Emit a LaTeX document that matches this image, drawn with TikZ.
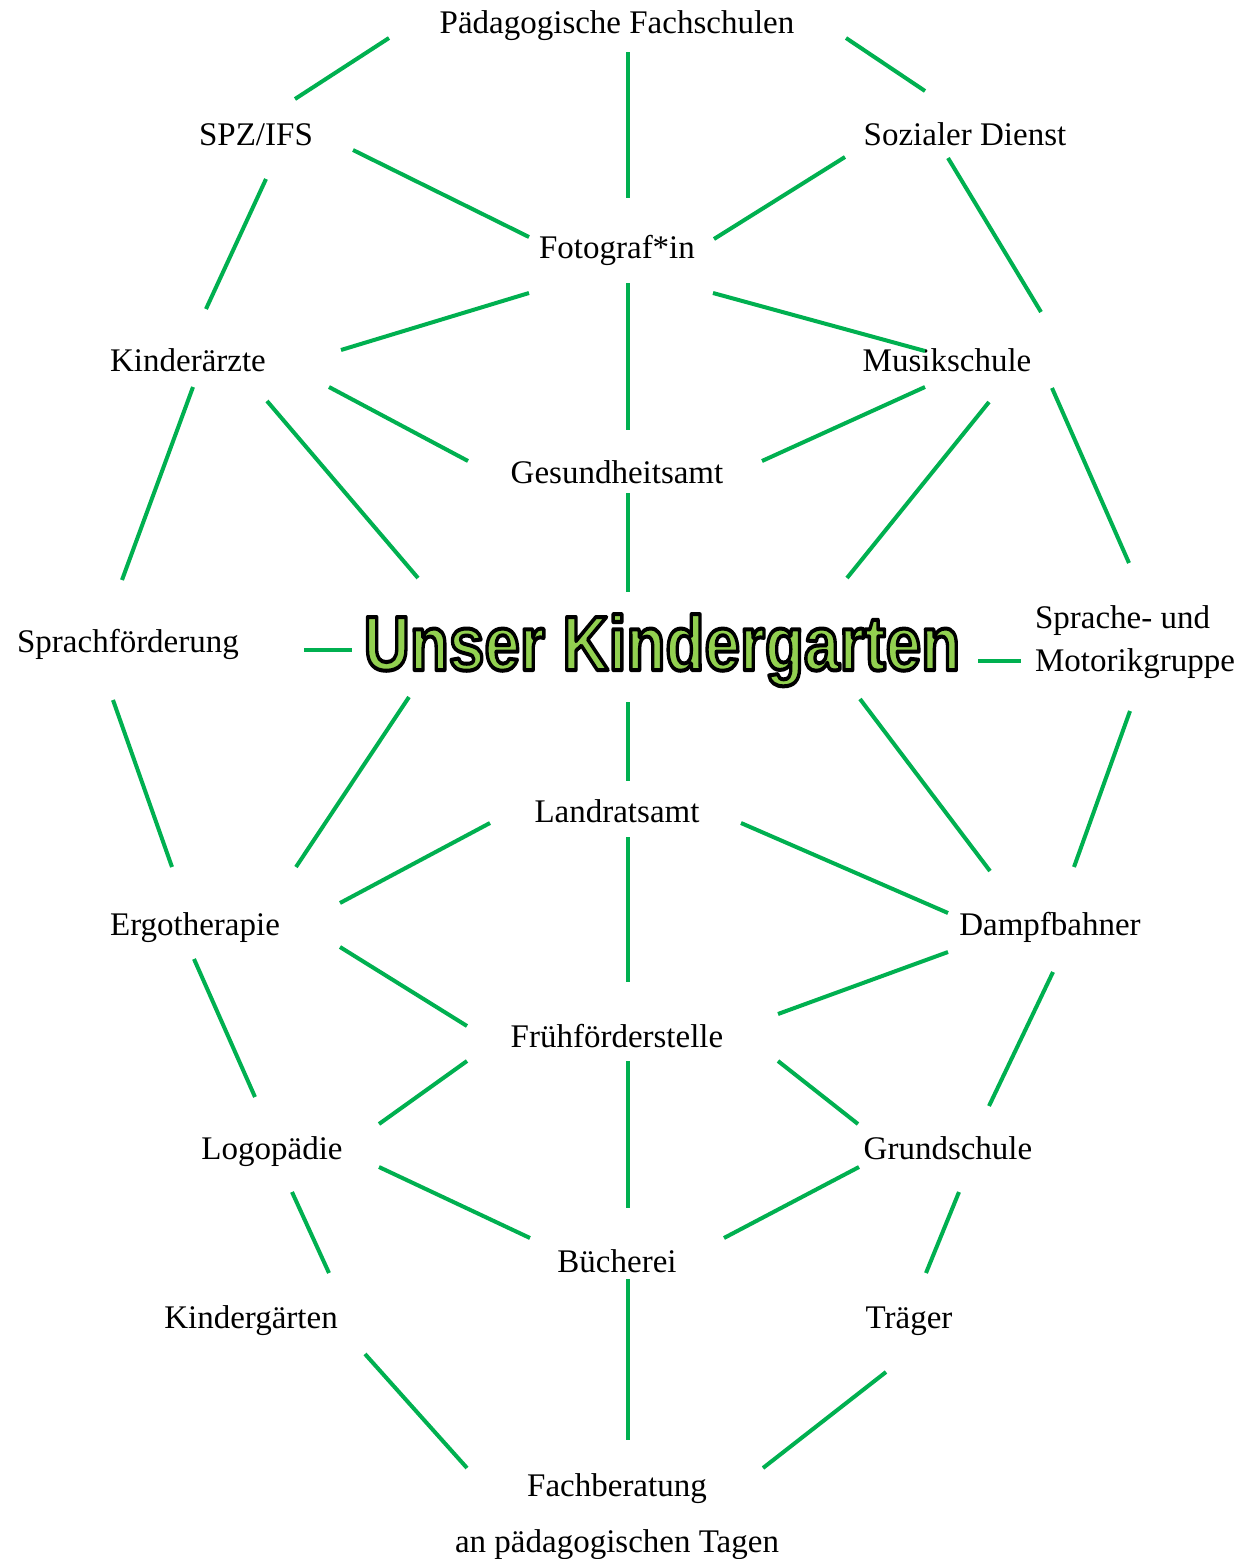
\documentclass[tikz,border=0pt]{standalone}
\usepackage{fontspec}
\setmainfont{Liberation Serif}
\newfontfamily\titlefont{Liberation Sans}
\definecolor{linegreen}{RGB}{0,176,80}
\definecolor{titlegreen}{RGB}{146,208,80}
\tikzset{
  lbl/.style={font=\fontsize{33}{40}\selectfont, inner sep=0pt, anchor=base},
  conn/.style={draw=linegreen, line width=4pt},
}
\newcommand\seg[4]{\draw[conn] ([shift={#2}]#1.base) -- ([shift={#4}]#3.base);}
\newcommand\outlinedtext[1]{\special{pdf:literal direct 0 0 0 RG 4 w 1 j 2 Tr}#1\special{pdf:literal direct 0 Tr}}
\begin{document}
\begin{tikzpicture}[x=1pt,y=-1pt]
\fill[white] (0,0) rectangle (1250,1559);
\useasboundingbox (0,0) rectangle (1250,1559);

\node[lbl] (paed) at (617,33) {Pädagogische Fachschulen};
\node[lbl] (spz) at (256,145) {SPZ/IFS};
\node[lbl] (soz) at (965,145) {Sozialer Dienst};
\node[lbl] (foto) at (617,258) {Fotograf*in};
\node[lbl] (kind) at (188,371) {Kinderärzte};
\node[lbl] (musik) at (947,371) {Musikschule};
\node[lbl] (gesund) at (617,483) {Gesundheitsamt};
\node[lbl] (sprachf) at (128,652) {Sprachförderung};
\node[inner sep=0pt, anchor=base] (kg) at (662,670)
  {\scalebox{0.83}[1]{\titlefont\bfseries\fontsize{77}{80}\selectfont\color{titlegreen}\outlinedtext{Unser Kindergarten}}};
\node[lbl] (moto) at (1135,628)
  {\fontsize{33}{43}\selectfont\begin{tabular}[t]{@{}l@{}}Sprache- und\\Motorikgruppe\end{tabular}};
\node[lbl] (land) at (617,822) {Landratsamt};
\node[lbl] (ergo) at (195,935) {Ergotherapie};
\node[lbl] (dampf) at (1050,935) {Dampfbahner};
\node[lbl] (frueh) at (617,1047) {Frühförderstelle};
\node[lbl] (logo) at (272,1159) {Logopädie};
\node[lbl] (grund) at (948,1159) {Grundschule};
\node[lbl] (buech) at (617,1272) {Bücherei};
\node[lbl] (kgaerten) at (251,1328) {Kindergärten};
\node[lbl] (traeger) at (909,1328) {Träger};
\node[lbl] (fach) at (617,1496)
  {\fontsize{33}{56}\selectfont\begin{tabular}[t]{@{}c@{}}Fachberatung\\an pädagogischen Tagen\end{tabular}};

\seg{spz}{(39,-46)}{paed}{(-228,5)}
\seg{paed}{(11,19)}{foto}{(11,-60)}
\seg{paed}{(229,5)}{soz}{(-40,-54)}
\seg{spz}{(97,5)}{foto}{(-88,-21)}
\seg{soz}{(-120,12)}{foto}{(97,-19)}
\seg{spz}{(10,34)}{kind}{(18,-62)}
\seg{soz}{(-17,13)}{musik}{(94,-59)}
\seg{foto}{(-88,35)}{kind}{(153,-21)}
\seg{foto}{(11,25)}{gesund}{(11,-53)}
\seg{foto}{(96,35)}{musik}{(-22,-20)}
\seg{kind}{(141,16)}{gesund}{(-149,-22)}
\seg{musik}{(-22,16)}{gesund}{(145,-22)}
\seg{kind}{(5,16)}{sprachf}{(-6,-72)}
\seg{kind}{(79,30)}{kg}{(-244,-92)}
\seg{musik}{(42,31)}{kg}{(185,-92)}
\seg{musik}{(105,17)}{moto}{(-6,-65)}
\seg{gesund}{(11,10)}{kg}{(-34,-78)}
\seg{sprachf}{(176,-2)}{kg}{(-310,-20)}
\seg{kg}{(316,-9)}{moto}{(-114,33)}
\seg{sprachf}{(-15,48)}{ergo}{(-23,-68)}
\seg{kg}{(-253,27)}{ergo}{(101,-68)}
\seg{kg}{(-34,32)}{land}{(11,-41)}
\seg{kg}{(198,29)}{dampf}{(-60,-64)}
\seg{moto}{(-5,83)}{dampf}{(24,-68)}
\seg{land}{(-127,1)}{ergo}{(145,-32)}
\seg{land}{(124,1)}{dampf}{(-102,-22)}
\seg{land}{(11,15)}{frueh}{(11,-65)}
\seg{ergo}{(145,12)}{frueh}{(-150,-21)}
\seg{dampf}{(-102,17)}{frueh}{(161,-33)}
\seg{ergo}{(-1,24)}{logo}{(-17,-62)}
\seg{dampf}{(3,37)}{grund}{(41,-53)}
\seg{frueh}{(-150,14)}{logo}{(107,-35)}
\seg{frueh}{(161,14)}{grund}{(-90,-35)}
\seg{frueh}{(11,14)}{buech}{(11,-64)}
\seg{logo}{(107,8)}{buech}{(-87,-34)}
\seg{grund}{(-89,8)}{buech}{(107,-34)}
\seg{logo}{(20,33)}{kgaerten}{(78,-55)}
\seg{grund}{(11,33)}{traeger}{(17,-55)}
\seg{buech}{(11,7)}{fach}{(11,-56)}
\seg{kgaerten}{(114,26)}{fach}{(-150,-28)}
\seg{traeger}{(-23,44)}{fach}{(146,-28)}
\end{tikzpicture}
\end{document}
